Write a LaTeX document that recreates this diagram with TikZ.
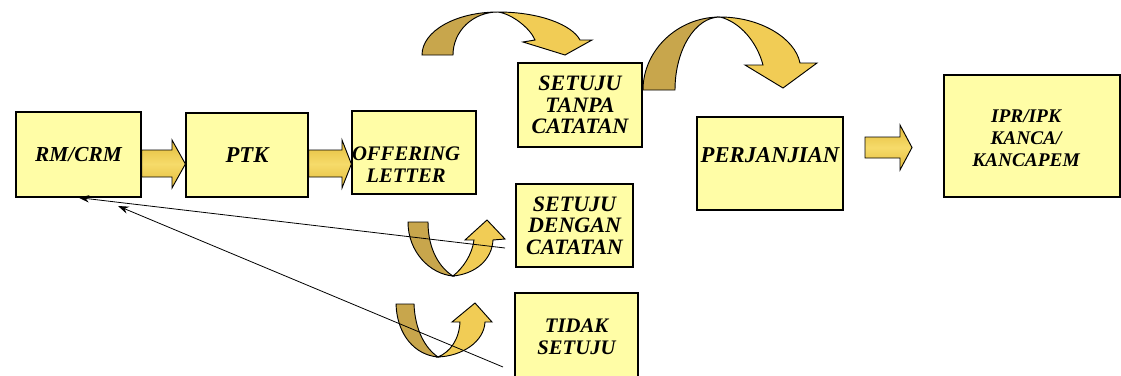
\documentclass[tikz,border=0pt]{standalone}
\usepackage{fontspec}
\setmainfont{Liberation Serif}
\newfontfamily\boxfont{Liberation Serif}
\usetikzlibrary{arrows.meta}

\definecolor{boxfill}{HTML}{FFFDA6}
\definecolor{bandlight}{HTML}{F1CC55}
\definecolor{banddark}{HTML}{C8A64C}
\definecolor{arrgold}{HTML}{E3BB3A}
\definecolor{arrlite}{HTML}{F6DB6A}

\tikzset{
  box/.style={draw=black, line width=0.9pt, fill=boxfill, inner sep=0pt},
  txt/.style={font=\boxfont\bfseries\itshape\fontsize{15.5}{16.5}\selectfont, align=center, inner sep=0pt},
  bigtxt/.style={txt, font=\boxfont\bfseries\itshape\fontsize{16.5}{16}\selectfont},
  blockarr/.style={draw=black, line width=0.7pt, top color=arrgold, bottom color=arrgold, middle color=arrlite},
  darkband/.style={draw=black, line width=0.7pt, fill=banddark},
  lightband/.style={draw=black, line width=0.7pt, fill=bandlight},
  back/.style={draw=black, line width=0.6pt, -{Stealth[length=8pt,width=5.5pt]}}
}

\begin{document}
\begin{tikzpicture}[x=0.75pt,y=0.75pt,yscale=-1,xscale=1]
\clip (0,0) rectangle (1121,375);

% boxes
\node[box, minimum width=93.75pt, minimum height=63.75pt, label={[txt, font=\boxfont\bfseries\itshape\fontsize{16}{16.5}\selectfont]center:RM/CRM}] (rm) at (78.5,154.5) {};
\node[box, minimum width=91.5pt, minimum height=63pt, label={[txt, font=\boxfont\bfseries\itshape\fontsize{17}{16.5}\selectfont]center:PTK}] (ptk) at (247,155) {};
\node[box, minimum width=93pt, minimum height=62.25pt, label={[txt, xshift=-6pt, yshift=-9pt]center:OFFERING\\LETTER}] (offer) at (414,152.5) {};
\node[box, minimum width=93pt, minimum height=63pt, label={[bigtxt]center:SETUJU\\TANPA\\CATATAN}] (tanpa) at (580,105) {};
\node[box, minimum width=87.75pt, minimum height=62.25pt, label={[bigtxt]center:SETUJU\\DENGAN\\CATATAN}] (dengan) at (574.5,225.5) {};
\node[box, minimum width=92.25pt, minimum height=63pt, label={[txt, yshift=-1.5pt]center:TIDAK\\SETUJU}] (tidak) at (576.5,335) {};
\node[box, minimum width=109.5pt, minimum height=69.75pt, label={[bigtxt, font=\boxfont\bfseries\itshape\fontsize{17}{17}\selectfont, yshift=6.4pt]center:PERJANJIAN}] (perj) at (770,163.5) {};
\node[box, minimum width=132pt, minimum height=91.5pt, label={[txt, font=\boxfont\bfseries\itshape\fontsize{14.5}{16.5}\selectfont, xshift=-4.5pt, yshift=-2pt]center:IPR/IPK\\KANCA/\\KANCAPEM}] (ipr) at (1032,136) {};

% block arrows
\draw[blockarr] (rm.east |- 0,150) -- (172,150) -- (172,140) -- (ptk.west |- 0,164) -- (172,188) -- (172,177) -- (rm.east |- 0,177) -- cycle;
\draw[blockarr] (ptk.east |- 0,150) -- (342,150) -- (342,140) -- (offer.west |- 0,164) -- (342,188) -- (342,177) -- (ptk.east |- 0,177) -- cycle;
\draw[blockarr] (865,137) -- (900,137) -- (900,125) -- (912,147.5) -- (900,170) -- (900,158) -- (865,158) -- cycle;

% curved arrow over to tanpa
\draw[darkband] (422,55) .. controls (422,31) and (456,12) .. (498,12) .. controls (473,12) and (453,31) .. (453,55) -- cycle;
\draw[lightband] (498,12) .. controls (540,12) and (572,25) .. (580,40) -- (592,40) -- (565,55) -- (523,42) -- (535,40) .. controls (530,28) and (512,14) .. (498,12) -- cycle;

% curved arrow tanpa to perjanjian
\draw[darkband] (643,90) .. controls (643,50) and (678,17) .. (720,17) .. controls (695,17) and (675,50) .. (675,90) -- cycle;
\draw[lightband] (720,17) .. controls (760,17) and (795,38) .. (800,63) -- (817,63) -- (783,88) -- (745,65) -- (763,65) .. controls (757,42) and (740,22) .. (720,17) -- cycle;

% U arrows
\draw[darkband] (408,222) -- (428,222) .. controls (428,250) and (440,268) .. (453,276) .. controls (430,274) and (408,252) .. (408,222) -- cycle;
\draw[lightband] (453,276) .. controls (475,274) and (492,260) .. (493,240) -- (505,239) -- (487,220) -- (465,240) -- (474,240) .. controls (472,255) and (463,268) .. (453,276) -- cycle;

\draw[darkband] (396,304) -- (414,304) .. controls (415,330) and (425,348) .. (438,357) .. controls (415,355) and (397,335) .. (396,304) -- cycle;
\draw[lightband] (438,357) .. controls (462,356) and (484,342) .. (485,322) -- (492,322) -- (475,303) -- (452,322) -- (460,322) .. controls (459,340) and (450,352) .. (438,357) -- cycle;

% lines back to RM/CRM
\coordinate (dengan-from) at (505,248);
\coordinate (tidak-from) at (503,367);
\coordinate (back-end) at (118,206);
\draw[back] (dengan-from) -- (rm.south);
\draw[back] (tidak-from) -- (back-end);

\end{tikzpicture}
\end{document}
